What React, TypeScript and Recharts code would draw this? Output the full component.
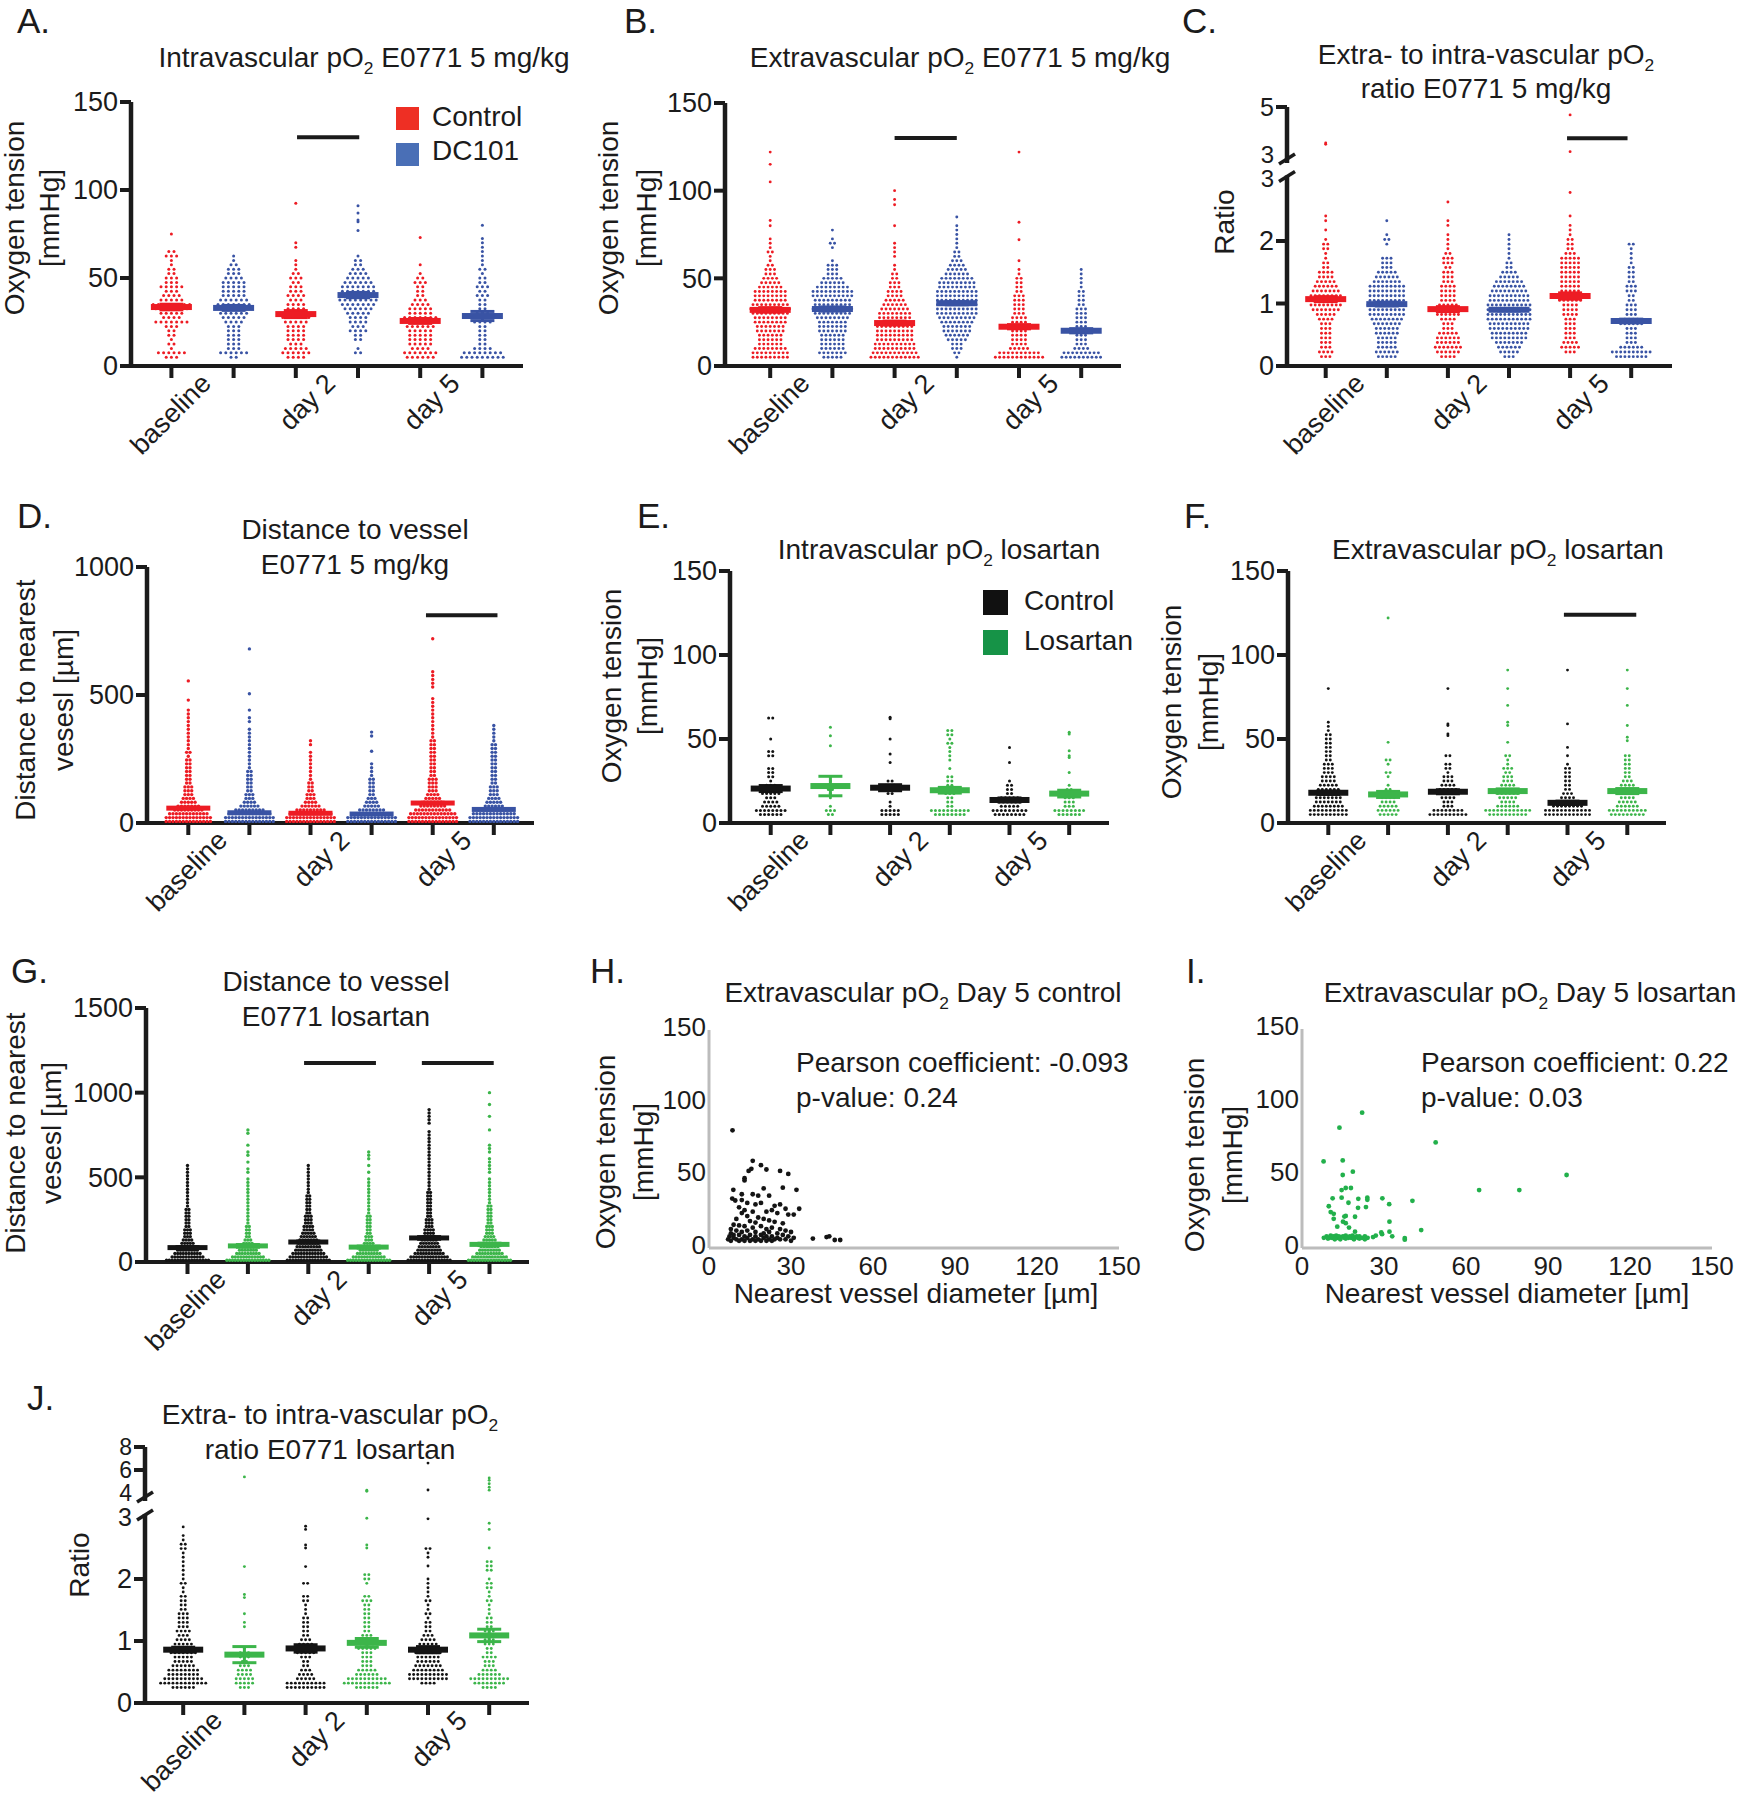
import React from "react";
import { ScatterChart, Scatter, XAxis, YAxis, ErrorBar, ReferenceLine } from "recharts";

const FONT = '"Liberation Sans", Arial, Helvetica, sans-serif';
const INK = "#1b1b1b";
const RED = "#ED1C24";
const BLUE = "#3953A4";
const GREEN = "#3CB54A";
const BLACK = "#141414";
const AXIS_GREY = "#bcbcbc";

const DAYS = ["baseline", "day 2", "day 5"];
const GROUP_POS = [1, 2, 3, 4, 5, 6];

// ---- dot counts per row (bin start, bin step), groups: ctrl/treat x baseline/day2/day5 ----
const A_BIN: [number, number] = [5, 2.5];
const A_COUNTS = [
  [3, 6, 1, 2, 1, 2, 2, 3, 7, 4, 5, 7, 8, 5, 4, 3, 5, 3, 3, 2, 2, 1, 1, 3, 2, 0, 0, 0, 1],
  [2, 6, 3, 3, 3, 3, 3, 3, 4, 5, 6, 8, 7, 6, 5, 5, 5, 5, 4, 3, 3, 2, 1, 1],
  [4, 6, 5, 3, 4, 4, 4, 4, 5, 6, 7, 4, 4, 3, 4, 3, 3, 2, 3, 2, 1, 1, 1, 0, 0, 1, 1],
  [0, 2, 1, 0, 2, 2, 4, 3, 4, 4, 5, 6, 7, 8, 8, 7, 7, 6, 5, 4, 3, 2, 2, 1],
  [6, 7, 4, 5, 5, 5, 5, 6, 8, 7, 5, 5, 4, 3, 2, 2, 2, 3, 2, 1, 0, 1],
  [9, 8, 4, 2, 2, 2, 2, 2, 4, 5, 3, 2, 2, 2, 3, 2, 3, 2, 2, 1, 2, 1, 1, 1, 1, 1, 1, 1],
];
const A_EXTRA = [[], [], [92.5], [77, 82, 83, 87, 91], [73], [80]];
const A_MEAN = [33.5, 33, 29.5, 40.3, 25.6, 28.4];
const A_SEM = [1.6, 1.4, 2.0, 1.5, 1.4, 2.6];

const B_BIN: [number, number] = [5, 2.5];
const B_COUNTS = [
  [9, 9, 8, 6, 6, 6, 7, 7, 8, 8, 9, 10, 9, 8, 8, 8, 6, 5, 4, 3, 3, 2, 1, 1, 2, 1, 1, 1],
  [5, 7, 6, 6, 6, 6, 7, 7, 7, 8, 9, 10, 9, 9, 10, 10, 8, 6, 5, 3, 3, 3, 1, 0, 0, 1, 2, 1, 0, 1],
  [12, 11, 10, 10, 9, 9, 9, 9, 9, 8, 8, 7, 6, 5, 4, 4, 3, 3, 2, 2, 1, 1, 0, 1, 1, 1, 1],
  [1, 2, 3, 3, 5, 6, 7, 7, 8, 9, 10, 10, 10, 10, 10, 10, 9, 9, 8, 6, 5, 4, 3, 2, 2, 1, 1, 1, 1, 1, 1, 0, 1],
  [12, 10, 5, 4, 4, 4, 4, 4, 4, 4, 3, 3, 3, 3, 3, 2, 2, 2, 2, 1, 1, 0, 1],
  [10, 9, 4, 3, 3, 3, 3, 3, 3, 3, 3, 3, 2, 2, 2, 2, 1, 1, 1, 1, 1],
];
const B_EXTRA = [[80, 83, 105, 115, 122], [], [80, 92, 95, 100], [], [72, 82, 122], []];
const B_MEAN = [32, 32.5, 24.5, 35.8, 22.4, 20.1];
const B_SEM = [1.3, 1.2, 1.1, 0.9, 1.2, 1.2];

const C_BIN: [number, number] = [0.15, 0.075];
const C_COUNTS = [
  [3, 4, 3, 3, 3, 3, 3, 3, 4, 5, 7, 8, 9, 8, 7, 6, 5, 4, 4, 2, 2, 1, 1, 2, 2, 1, 0, 1, 0, 1, 1],
  [5, 6, 5, 5, 5, 6, 6, 7, 8, 9, 9, 10, 9, 9, 9, 9, 7, 6, 5, 3, 3, 3, 0, 0, 1, 2, 1, 0, 0, 1],
  [4, 6, 7, 6, 6, 5, 3, 3, 4, 6, 8, 5, 4, 4, 4, 4, 3, 3, 3, 2, 3, 3, 2, 1, 1, 1, 1, 0, 1, 1, 0, 0, 0, 1],
  [3, 5, 6, 7, 9, 9, 10, 10, 11, 11, 11, 11, 10, 10, 9, 8, 7, 5, 4, 2, 2, 1, 1, 1, 1, 1, 1],
  [0, 3, 5, 4, 3, 3, 3, 3, 3, 4, 4, 4, 6, 9, 5, 5, 5, 5, 5, 5, 5, 5, 3, 2, 2, 2, 1, 1, 1, 0, 1, 0, 0, 0, 0, 1],
  [8, 10, 6, 3, 3, 3, 3, 6, 4, 3, 3, 3, 2, 2, 3, 3, 2, 2, 2, 2, 1, 1, 1, 1, 2],
];
const C_EXTRA = [[3.45, 3.5], [], [], [], [3.14, 4.67], []];
const C_MEAN = [1.07, 0.99, 0.91, 0.9, 1.12, 0.72];
const C_SEM = [0.04, 0.03, 0.04, 0.02, 0.05, 0.03];

const D_BIN: [number, number] = [6, 15];
const D_COUNTS = [
  [14, 14, 12, 9, 7, 5, 4, 3, 3, 3, 2, 2, 2, 2, 2, 2, 2, 1, 2, 1, 1, 1, 1, 1, 1, 1, 1, 1, 1, 1],
  [15, 15, 13, 9, 6, 4, 3, 3, 2, 2, 2, 2, 2, 2, 1, 1, 1, 1, 1, 1, 1, 1, 1, 1, 1, 0, 1, 1, 0, 1],
  [15, 15, 13, 9, 6, 4, 3, 3, 2, 2, 2, 1, 1, 1, 1, 1, 1, 1, 1, 0, 1, 1],
  [15, 15, 12, 8, 5, 4, 3, 2, 2, 2, 2, 2, 1, 1, 1, 1],
  [15, 15, 14, 11, 8, 6, 5, 4, 3, 3, 3, 3, 2, 2, 2, 2, 2, 2, 2, 2, 2, 2, 1, 1, 1, 1, 1, 1, 1, 1, 1, 1, 1, 0, 0, 1, 1, 1, 1, 1],
  [15, 15, 13, 10, 6, 5, 4, 3, 3, 3, 2, 2, 2, 2, 2, 2, 2, 2, 2, 2, 2, 1, 1, 1, 1, 1],
];
const D_EXTRA = [[480, 555], [505, 680], [], [280, 340, 355], [720], []];
const D_MEAN = [58, 40, 38, 35, 78, 53];
const D_SEM = [3, 2, 2, 2, 3, 2];

const E_BIN: [number, number] = [5, 2.5];
const E_COUNTS = [
  [6, 8, 5, 4, 3, 5, 7, 3, 1, 2, 2, 2, 0, 0, 2, 2, 0, 0, 1, 0, 0, 0, 0, 2],
  [2, 3, 1, 0, 1, 1, 2, 2, 1],
  [5, 5, 1, 1, 0, 2, 4, 3, 2],
  [8, 10, 2, 2, 2, 3, 4, 2, 2, 2, 0, 1, 0, 1, 1, 1, 1, 2, 1, 2, 2],
  [8, 9, 5, 6, 5, 2, 2, 2, 1],
  [6, 8, 3, 3, 3, 4, 2, 1],
];
const E_EXTRA = [[], [46, 52, 57], [36, 41, 50, 62, 63], [], [36, 45], [30, 39, 40, 43, 53, 54]];
const E_MEAN = [20.5, 22, 21, 19.5, 13.7, 17.5];
const E_SEM = [1.8, 5.8, 1.8, 1.7, 1.2, 2.0];

const F_BIN: [number, number] = [5, 2.5];
const F_COUNTS = [
  [10, 10, 8, 7, 7, 7, 6, 5, 4, 4, 3, 3, 3, 2, 2, 2, 2, 2, 2, 2, 1, 1, 1],
  [5, 6, 5, 4, 4, 4, 2, 1, 0, 1, 2, 0, 1, 2],
  [10, 8, 3, 3, 4, 5, 5, 4, 3, 3, 1, 2, 2, 0, 2],
  [10, 12, 6, 4, 5, 6, 6, 4, 3, 3, 2, 3, 1, 1, 2],
  [12, 12, 8, 6, 4, 3, 2, 2, 2, 2, 2, 2, 1],
  [9, 10, 6, 5, 4, 6, 6, 4, 3, 2, 2, 2, 2, 2, 2],
];
const F_EXTRA = [[80], [48, 122], [52, 53, 58, 59, 80], [48, 58, 60, 70, 80, 91], [40, 45, 59, 91], [49, 51, 58, 70, 80, 91]];
const F_MEAN = [18, 17, 18.6, 19, 12, 19];
const F_SEM = [1, 1.8, 1.2, 1.3, 1, 1.5];

const G_BIN: [number, number] = [10, 20];
const G_COUNTS = [
  [16, 12, 10, 8, 7, 5, 4, 3, 3, 3, 2, 2, 2, 2, 2, 2, 1, 1, 1, 1, 1, 1, 1, 1, 1, 1, 1, 1, 1],
  [16, 12, 9, 7, 5, 4, 3, 2, 2, 2, 2, 1, 1, 1, 1, 1, 1, 1, 1, 1, 1, 1, 1, 1, 1, 0, 1, 1, 0, 1, 0, 1, 1],
  [16, 14, 12, 10, 9, 8, 7, 6, 5, 4, 4, 3, 3, 3, 2, 2, 2, 2, 2, 2, 1, 1, 1, 1, 1, 1, 1, 1, 1],
  [16, 12, 9, 7, 5, 4, 3, 3, 2, 2, 2, 2, 2, 2, 1, 1, 1, 1, 1, 1, 1, 1, 1, 1, 1, 0, 1, 0, 1, 0, 1, 1, 1],
  [16, 14, 11, 9, 8, 7, 6, 5, 4, 4, 3, 3, 3, 2, 2, 2, 2, 2, 2, 2, 2, 1, 1, 1, 1, 1, 1, 1, 1, 1, 1, 1, 1, 1, 1, 1, 1, 1, 1],
  [16, 13, 10, 8, 7, 6, 5, 4, 3, 3, 3, 2, 2, 2, 2, 2, 2, 1, 1, 1, 1, 1, 1, 1, 1, 0, 1, 1, 1, 1, 1, 0, 1, 1, 1],
];
const G_EXTRA = [[], [690, 760, 780], [], [], [820, 840, 860, 880, 900], [780, 860, 930, 1000]];
const G_MEAN = [85, 95, 118, 88, 142, 104];
const G_SEM = [6, 8, 6, 6, 8, 7];

const J_BIN: [number, number] = [0.25, 0.07];
const J_COUNTS = [
  [6, 12, 10, 8, 8, 6, 5, 5, 7, 8, 5, 4, 3, 4, 3, 3, 3, 3, 2, 2, 2, 2, 1, 1, 2, 1, 1, 1, 1, 1, 1, 1, 2, 2, 1, 1, 0, 1],
  [3, 5, 5, 4, 4, 3, 2, 3, 3, 1, 0, 0, 0, 0, 1, 1, 0, 1],
  [10, 10, 5, 4, 3, 2, 2, 3, 5, 8, 4, 3, 2, 2, 2, 2, 2, 1, 1, 1, 2, 2, 0, 0, 2],
  [6, 12, 10, 6, 5, 3, 3, 3, 3, 5, 6, 5, 3, 2, 2, 2, 2, 2, 2, 2, 3, 2, 0, 0, 1, 2, 2],
  [0, 4, 10, 10, 8, 7, 6, 6, 7, 8, 5, 4, 3, 2, 2, 2, 1, 2, 1, 1, 2, 1, 1, 1, 1, 1, 0, 0, 1, 0, 1, 1, 2],
  [4, 8, 10, 6, 4, 3, 3, 4, 2, 2, 3, 3, 4, 3, 2, 2, 2, 1, 1, 1, 2, 1, 1, 2, 2, 1, 0, 2, 2, 2],
];
const J_EXTRA = [[], [1.7, 1.75, 2.2, 5.4], [2.2, 2.5, 2.55, 2.8, 2.85], [2.5, 2.55, 2.98, 4.15, 4.25], [2.97, 4.26, 6.6], [2.5, 2.8, 2.9, 4.25, 4.5, 4.8, 5.1, 5.3]];
const J_MEAN = [0.86, 0.78, 0.88, 0.97, 0.86, 1.09];
const J_SEM = [0.04, 0.13, 0.06, 0.07, 0.05, 0.1];

// diameter [µm], pO2 [mmHg]
const H_POINTS: [number, number][] = [
  [8.6, 81], [16, 60], [19, 57], [21, 54], [15.5, 54.5], [14.5, 53], [26, 53], [29, 51], [13, 48], [13, 46.5],
  [8.9, 40], [20, 41], [27, 41.5], [32, 40], [12, 37], [16, 37], [18, 36], [22, 36], [8.5, 34], [9.6, 32.7],
  [12, 33], [14, 31], [17, 30], [19, 31], [24, 29], [26, 30], [28, 27], [33, 27], [11, 28], [13, 26],
  [16, 25], [21, 25], [23, 26], [25, 24], [29, 23], [31, 23], [12, 24], [14, 22], [18, 21], [20, 20],
  [22, 19], [10, 20], [15, 18.5], [17, 17.5], [24, 18], [27, 17], [9, 16], [11, 15.5], [13, 15], [16, 14],
  [19, 15], [21, 13], [23, 14], [26, 13], [28, 12], [30, 11], [8, 13], [10, 12], [12, 11], [14, 12],
  [17, 11], [20, 10], [22, 11], [25, 10], [27, 9], [29, 8], [8, 10], [9, 9], [11, 9], [13, 8],
  [15, 9], [17, 8], [19, 9], [21, 8], [23, 8], [25, 7], [31, 7], [7.5, 8], [9, 7], [10, 6],
  [12, 6], [14, 7], [16, 6], [18, 6], [20, 7], [22, 6], [24, 6], [26, 6], [28, 6], [30, 5],
  [11, 5], [13, 5], [15, 5], [17, 5], [19, 5], [21, 5], [23, 5], [7, 6], [8, 5], [38, 6.5],
  [43, 7.5], [44, 8], [46, 5.5], [48, 5.5],
];
const I_POINTS: [number, number][] = [
  [22, 92.7], [13.7, 82.4], [48.9, 72.3], [7.9, 59.3], [14.9, 60], [18.6, 52.3], [14.9, 50], [96.8, 50], [64.8, 39.7], [79.5, 39.7],
  [16, 41.1], [17.9, 41.1], [14.5, 39.7], [40.4, 32.3], [29.4, 34], [23.9, 34.5], [23.9, 33], [20.6, 33.7], [11.2, 34], [14.5, 34.5],
  [17, 31], [31.9, 30], [9.8, 28.6], [20.5, 27.5], [23.4, 28], [10.5, 24.6], [11.6, 23.4], [16, 22], [15.5, 21.5], [19.4, 21.4],
  [11.6, 20], [15, 18], [16, 17], [32, 18], [12.9, 14.6], [17.2, 14], [43.6, 12.3], [29, 10.7], [29.3, 9.5], [32, 11.2],
  [19.4, 11.2], [37.6, 6.8], [37.6, 5.7], [33, 8], [9, 8], [10, 7], [10.5, 8.5], [11, 7], [11.5, 8], [12, 7],
  [12.5, 8.5], [13, 7], [13.5, 8], [14, 7], [15, 8], [15.5, 7], [16, 8.5], [17, 7], [17.5, 8], [18, 7],
  [18.5, 8.5], [19, 7], [20, 8], [20.5, 7], [21, 8], [22, 7], [23, 8], [24, 7], [26, 7.5], [27, 8.5],
  [8, 7], [9.5, 6.5], [12, 6], [14, 6], [16, 6.5], [19, 6], [21, 6.5], [23, 6],
];

// ---- broken y axes (C, J) ----
const C_K = 24 / 62.5;
const C_GAP = 23.5 / 62.5;
const cUpper = (v: number) => 3 + C_GAP + (v - 3) * C_K;
const brkC = (v: number) => (v <= 3 ? v : cUpper(v));
const J_K = 11.5 / 62;
const J_GAP = 24 / 62;
const jUpper = (v: number) => 3 + J_GAP + (v - 4) * J_K;
const brkJ = (v: number) => (v <= 3 ? v : jUpper(v));

type YTick = { v: number; label: string; line?: boolean; brk?: boolean; size?: number };
const T150: YTick[] = [0, 50, 100, 150].map((v) => ({ v, label: String(v) }));
const T1000: YTick[] = [0, 500, 1000].map((v) => ({ v, label: String(v) }));
const T1500: YTick[] = [0, 500, 1000, 1500].map((v) => ({ v, label: String(v) }));
const TC: YTick[] = [
  { v: 0, label: "0" }, { v: 1, label: "1" }, { v: 2, label: "2" },
  { v: 3, label: "3", line: false, brk: true, size: 24 },
  { v: cUpper(3), label: "3", line: false, size: 24 }, { v: cUpper(5), label: "5", size: 25 },
];
const TJ: YTick[] = [
  { v: 0, label: "0" }, { v: 1, label: "1" }, { v: 2, label: "2" },
  { v: 3, label: "3", line: false, brk: true, size: 25 },
  { v: jUpper(4), label: "4", line: false, size: 23 }, { v: jUpper(6), label: "6", size: 23 }, { v: jUpper(8), label: "8", size: 23 },
];

type Geo = { axisX: number; right: number; yTop: number; y0: number; first: number; spacing: number };
const GEO_A: Geo = { axisX: 131, right: 523, yTop: 102, y0: 366, first: 171.4, spacing: 62.2 };
const GEO_B: Geo = { axisX: 725, right: 1121, yTop: 103, y0: 366, first: 770.2, spacing: 62.2 };
const GEO_C: Geo = { axisX: 1287, right: 1672, yTop: 107, y0: 366, first: 1325.7, spacing: 61.1 };
const GEO_D: Geo = { axisX: 147, right: 534, yTop: 567, y0: 823, first: 188.3, spacing: 61.1 };
const GEO_E: Geo = { axisX: 730, right: 1109, yTop: 571, y0: 823, first: 770.7, spacing: 59.7 };
const GEO_F: Geo = { axisX: 1288, right: 1666, yTop: 571, y0: 823, first: 1328.3, spacing: 59.8 };
const GEO_G: Geo = { axisX: 146, right: 529, yTop: 1008, y0: 1262, first: 187.5, spacing: 60.4 };
const GEO_J: Geo = { axisX: 145, right: 529, yTop: 1447, y0: 1703, first: 183.2, spacing: 61.2 };

const YW = 80;
const XH = 115;
const MT = 20;
const MR = 20;

type DotPanelProps = {
  geo: Geo; yMax: number; yTicks: YTick[]; bin: [number, number];
  counts: number[][]; extra: number[][]; means: number[]; sems: number[];
  colors: [string, string]; dotR: number; dotGap: number; meanW: number; meanH: number;
  sig?: [number, number, number][]; tf?: (v: number) => number; gapPx?: number;
};

function DotPanel(p: DotPanelProps) {
  const { geo } = p;
  const tf = p.tf ?? ((v: number) => v);
  const plotH = geo.y0 - geo.yTop;
  const width = YW + (geo.right - geo.axisX) + MR;
  const height = MT + plotH + XH;
  const xMin = 1 - (geo.first - geo.axisX) / geo.spacing;
  const xMax = 6 + (geo.right - geo.first - 5 * geo.spacing) / geo.spacing;
  const gap = p.dotGap / geo.spacing;
  const axisY = MT + plotH;

  const series = p.counts.map((cnt, gi) => {
    const pos = GROUP_POS[gi];
    const pts: { x: number; y: number }[] = [];
    cnt.forEach((n, i) => {
      const v = p.bin[0] + i * p.bin[1];
      for (let j = 0; j < n; j++) pts.push({ x: pos + (j - (n - 1) / 2) * gap, y: tf(v) });
    });
    (p.extra[gi] ?? []).forEach((v) => pts.push({ x: pos, y: tf(v) }));
    return pts;
  });

  const xTick = (t: any) => {
    const v = t.payload?.value;
    const k = v === 1 ? 0 : v === 3 ? 1 : v === 5 ? 2 : -1;
    if (k < 0) return <g />;
    const px = t.x + geo.spacing / 2 + 10;
    const py = axisY + 19;
    return (
      <text x={px} y={py} transform={`rotate(-45 ${px} ${py})`} textAnchor="end" fontSize={27} fontFamily={FONT} fill={INK}>
        {DAYS[k]}
      </text>
    );
  };

  const yTick = (t: any) => {
    const tk = p.yTicks[t.index];
    if (!tk) return <g />;
    const y = t.y;
    const ax = YW;
    const g = p.gapPx ?? 0;
    return (
      <g>
        {tk.line !== false && <line x1={ax - 11} x2={ax} y1={y} y2={y} stroke={INK} strokeWidth={4} />}
        {tk.brk && (
          <g>
            <rect x={ax - 4} y={y - g + 8} width={8} height={g - 11} fill="#fff" />
            <line x1={ax - 8} y1={y + 3} x2={ax + 8} y2={y - 7} stroke={INK} strokeWidth={3.5} />
            <line x1={ax - 8} y1={y - g + 9} x2={ax + 8} y2={y - g - 1} stroke={INK} strokeWidth={3.5} />
          </g>
        )}
        <text x={ax - 13} y={y} dy="0.35em" textAnchor="end" fontSize={tk.size ?? 27} fontFamily={FONT} fill={INK}>
          {tk.label}
        </text>
      </g>
    );
  };

  return (
    <div style={{ position: "absolute", left: geo.axisX - YW, top: geo.yTop - MT }}>
      <ScatterChart width={width} height={height} margin={{ top: MT, right: MR, bottom: 0, left: 0 }}>
        <XAxis
          type="number" dataKey="x" domain={[xMin, xMax]} ticks={GROUP_POS} allowDataOverflow interval={0}
          height={XH} axisLine={{ stroke: INK, strokeWidth: 4 }} tickLine={{ stroke: INK, strokeWidth: 4 }}
          tickSize={12} tick={xTick}
        />
        <YAxis
          type="number" dataKey="y" domain={[0, p.yMax]} ticks={p.yTicks.map((t) => t.v)} allowDataOverflow
          interval={0} width={YW} axisLine={{ stroke: INK, strokeWidth: 4.5 }} tickLine={false} tick={yTick}
        />
        {series.map((pts, gi) => {
          const c = p.colors[gi % 2];
          return (
            <Scatter
              key={"g" + gi} data={pts} fill={c} isAnimationActive={false}
              shape={(s: any) => <circle cx={s.cx} cy={s.cy} r={p.dotR} fill={c} />}
            />
          );
        })}
        {[0, 1].map((ci) => {
          const c = p.colors[ci];
          const data = GROUP_POS.filter((_, gi) => gi % 2 === ci).map((pos) => ({
            x: pos, y: tf(p.means[pos - 1]), err: p.sems[pos - 1],
          }));
          return (
            <Scatter
              key={"m" + ci} data={data} fill={c} isAnimationActive={false}
              shape={(s: any) => (
                <rect x={s.cx - p.meanW / 2} y={s.cy - p.meanH / 2} width={p.meanW} height={p.meanH} fill={c} />
              )}
            >
              <ErrorBar dataKey="err" direction="y" width={12} stroke={c} strokeWidth={3} />
            </Scatter>
          );
        })}
        {(p.sig ?? []).map((s, i) => (
          <ReferenceLine
            key={"s" + i}
            segment={[{ x: s[0], y: tf(s[2]) }, { x: s[1], y: tf(s[2]) }]}
            stroke={INK} strokeWidth={4}
          />
        ))}
      </ScatterChart>
    </div>
  );
}

function CorrPanel(p: { axisX: number; right: number; yTop: number; y0: number; pts: [number, number][]; color: string }) {
  const yw = 70, xh = 45, mt = 28, mr = 40;
  const plotH = p.y0 - p.yTop;
  const width = yw + (p.right - p.axisX) + mr;
  const height = mt + plotH + xh;
  const data = p.pts.map(([x, y]) => ({ x, y }));
  const xTick = (t: any) => (
    <text x={t.x} y={mt + plotH + 27} textAnchor="middle" fontSize={26} fontFamily={FONT} fill={INK}>
      {t.payload?.value}
    </text>
  );
  const yTick = (t: any) => (
    <text x={yw - 3} y={t.y - 3} dy="0.35em" textAnchor="end" fontSize={26} fontFamily={FONT} fill={INK}>
      {t.payload?.value}
    </text>
  );
  return (
    <div style={{ position: "absolute", left: p.axisX - yw, top: p.yTop - mt }}>
      <ScatterChart width={width} height={height} margin={{ top: mt, right: mr, bottom: 0, left: 0 }}>
        <XAxis
          type="number" dataKey="x" domain={[0, 150]} ticks={[0, 30, 60, 90, 120, 150]} allowDataOverflow interval={0}
          height={xh} axisLine={{ stroke: AXIS_GREY, strokeWidth: 3 }} tickLine={false} tick={xTick}
        />
        <YAxis
          type="number" dataKey="y" domain={[0, 150]} ticks={[0, 50, 100, 150]} allowDataOverflow interval={0}
          width={yw} axisLine={{ stroke: AXIS_GREY, strokeWidth: 3 }} tickLine={false} tick={yTick}
        />
        <Scatter
          data={data} fill={p.color} isAnimationActive={false}
          shape={(s: any) => <circle cx={s.cx} cy={s.cy} r={2.4} fill={p.color} />}
        />
      </ScatterChart>
    </div>
  );
}

const Sub = ({ children }: { children: React.ReactNode }) => (
  <span style={{ fontSize: "0.62em", position: "relative", top: "0.4em" }}>{children}</span>
);

function Center({ x, y, size = 28, children }: { x: number; y: number; size?: number; children: React.ReactNode }) {
  return (
    <div style={{
      position: "absolute", left: x, top: y, transform: "translate(-50%,-50%)", fontSize: size,
      lineHeight: 1, whiteSpace: "nowrap", fontFamily: FONT, color: INK,
    }}>
      {children}
    </div>
  );
}

// rotated axis title; one line per [text, centre x]
function VLabel({ y, lines }: { y: number; lines: [string, number][] }) {
  return (
    <>
      {lines.map(([t, x], i) => (
        <div key={i} style={{
          position: "absolute", left: x, top: y, transform: "translate(-50%,-50%) rotate(-90deg)", fontSize: 28,
          lineHeight: 1, whiteSpace: "nowrap", fontFamily: FONT, color: INK,
        }}>
          {t}
        </div>
      ))}
    </>
  );
}

function LeftText({ x, base, size = 28, children }: { x: number; base: number; size?: number; children: React.ReactNode }) {
  return (
    <div style={{
      position: "absolute", left: x, top: base - 0.846 * size, fontSize: size, lineHeight: 1,
      whiteSpace: "nowrap", fontFamily: FONT, color: INK,
    }}>
      {children}
    </div>
  );
}

const Swatch = ({ x, y, w, h, c }: { x: number; y: number; w: number; h: number; c: string }) => (
  <div style={{ position: "absolute", left: x, top: y, width: w, height: h, background: c }} />
);

export default function App() {
  return (
    <div style={{
      position: "absolute", left: 0, top: 0, width: 1740, height: 1800, background: "#fff",
      fontFamily: FONT, color: INK, overflow: "hidden",
    }}>
      {/* panel letters */}
      <LeftText x={17} base={33} size={35}>A.</LeftText>
      <LeftText x={624} base={33} size={35}>B.</LeftText>
      <LeftText x={1182} base={33} size={35}>C.</LeftText>
      <LeftText x={17} base={528} size={35}>D.</LeftText>
      <LeftText x={637} base={528} size={35}>E.</LeftText>
      <LeftText x={1184} base={528} size={35}>F.</LeftText>
      <LeftText x={11} base={983} size={35}>G.</LeftText>
      <LeftText x={590} base={983} size={35}>H.</LeftText>
      <LeftText x={1186} base={983} size={35}>I.</LeftText>
      <LeftText x={27} base={1410} size={35}>J.</LeftText>

      {/* titles */}
      <Center x={364} y={58}>Intravascular pO<Sub>2</Sub> E0771 5 mg/kg</Center>
      <Center x={960} y={58}>Extravascular pO<Sub>2</Sub> E0771 5 mg/kg</Center>
      <Center x={1486} y={55}>Extra- to intra-vascular pO<Sub>2</Sub></Center>
      <Center x={1486} y={89}>ratio E0771 5 mg/kg</Center>
      <Center x={355} y={530}>Distance to vessel</Center>
      <Center x={355} y={565}>E0771 5 mg/kg</Center>
      <Center x={939} y={550}>Intravascular pO<Sub>2</Sub> losartan</Center>
      <Center x={1498} y={550}>Extravascular pO<Sub>2</Sub> losartan</Center>
      <Center x={336} y={982}>Distance to vessel</Center>
      <Center x={336} y={1017}>E0771 losartan</Center>
      <Center x={923} y={993}>Extravascular pO<Sub>2</Sub> Day 5 control</Center>
      <Center x={1530} y={993}>Extravascular pO<Sub>2</Sub> Day 5 losartan</Center>
      <Center x={330} y={1415}>Extra- to intra-vascular pO<Sub>2</Sub></Center>
      <Center x={330} y={1450}>ratio E0771 losartan</Center>

      {/* y labels */}
      <VLabel y={218} lines={[["Oxygen tension", 15], ["[mmHg]", 50]]} />
      <VLabel y={218} lines={[["Oxygen tension", 609], ["[mmHg]", 647]]} />
      <VLabel y={222} lines={[["Ratio", 1225]]} />
      <VLabel y={700} lines={[["Distance to nearest", 26], ["vesesl [µm]", 64]]} />
      <VLabel y={686} lines={[["Oxygen tension", 612], ["[mmHg]", 648]]} />
      <VLabel y={702} lines={[["Oxygen tension", 1172], ["[mmHg]", 1209]]} />
      <VLabel y={1133} lines={[["Distance to nearest", 16], ["vesesl [µm]", 52]]} />
      <VLabel y={1152} lines={[["Oxygen tension", 606], ["[mmHg]", 644]]} />
      <VLabel y={1155} lines={[["Oxygen tension", 1195], ["[mmHg]", 1233]]} />
      <VLabel y={1565} lines={[["Ratio", 80]]} />

      {/* x labels H, I */}
      <Center x={916} y={1294} size={28}>Nearest vessel diameter [µm]</Center>
      <Center x={1507} y={1294} size={28}>Nearest vessel diameter [µm]</Center>

      {/* legends */}
      <Swatch x={396} y={107} w={23} h={23} c="#EE2F24" />
      <Swatch x={396} y={143} w={23} h={23} c="#4A6FB6" />
      <LeftText x={432} base={127}>Control</LeftText>
      <LeftText x={432} base={161}>DC101</LeftText>
      <Swatch x={983} y={590} w={25} h={25} c="#111111" />
      <Swatch x={983} y={630} w={25} h={25} c="#169347" />
      <LeftText x={1024} base={611}>Control</LeftText>
      <LeftText x={1024} base={651}>Losartan</LeftText>

      {/* annotations */}
      <LeftText x={796} base={1073}>Pearson coefficient: -0.093</LeftText>
      <LeftText x={796} base={1108}>p-value: 0.24</LeftText>
      <LeftText x={1421} base={1073}>Pearson coefficient: 0.22</LeftText>
      <LeftText x={1421} base={1108}>p-value: 0.03</LeftText>

      <DotPanel geo={GEO_A} yMax={150} yTicks={T150} bin={A_BIN} counts={A_COUNTS} extra={A_EXTRA}
        means={A_MEAN} sems={A_SEM} colors={[RED, BLUE]} dotR={1.5} dotGap={5.2} meanW={41} meanH={6}
        sig={[[3.02, 4.02, 130]]} />
      <DotPanel geo={GEO_B} yMax={150} yTicks={T150} bin={B_BIN} counts={B_COUNTS} extra={B_EXTRA}
        means={B_MEAN} sems={B_SEM} colors={[RED, BLUE]} dotR={1.45} dotGap={4.3} meanW={41} meanH={6}
        sig={[[3, 4, 130]]} />
      <DotPanel geo={GEO_C} yMax={cUpper(5)} yTicks={TC} bin={C_BIN} counts={C_COUNTS} extra={C_EXTRA}
        means={C_MEAN} sems={C_SEM} colors={[RED, BLUE]} dotR={1.45} dotGap={4.2} meanW={41} meanH={6}
        sig={[[4.95, 5.94, 3.7]]} tf={brkC} gapPx={23.5} />
      <DotPanel geo={GEO_D} yMax={1000} yTicks={T1000} bin={D_BIN} counts={D_COUNTS} extra={D_EXTRA}
        means={D_MEAN} sems={D_SEM} colors={[RED, BLUE]} dotR={1.7} dotGap={3.4} meanW={44} meanH={5}
        sig={[[4.89, 6.06, 812]]} />
      <DotPanel geo={GEO_E} yMax={150} yTicks={T150} bin={E_BIN} counts={E_COUNTS} extra={E_EXTRA}
        means={E_MEAN} sems={E_SEM} colors={[BLACK, GREEN]} dotR={1.5} dotGap={4.1} meanW={40} meanH={6} />
      <DotPanel geo={GEO_F} yMax={150} yTicks={T150} bin={F_BIN} counts={F_COUNTS} extra={F_EXTRA}
        means={F_MEAN} sems={F_SEM} colors={[BLACK, GREEN]} dotR={1.45} dotGap={4.0} meanW={40} meanH={6}
        sig={[[4.94, 6.15, 124]]} />
      <DotPanel geo={GEO_G} yMax={1500} yTicks={T1500} bin={G_BIN} counts={G_COUNTS} extra={G_EXTRA}
        means={G_MEAN} sems={G_SEM} colors={[BLACK, GREEN]} dotR={1.7} dotGap={2.8} meanW={40} meanH={5}
        sig={[[2.93, 4.12, 1175], [4.88, 6.07, 1175]]} />
      <DotPanel geo={GEO_J} yMax={jUpper(8)} yTicks={TJ} bin={J_BIN} counts={J_COUNTS} extra={J_EXTRA}
        means={J_MEAN} sems={J_SEM} colors={[BLACK, GREEN]} dotR={1.45} dotGap={4.1} meanW={40} meanH={6}
        tf={brkJ} gapPx={24} />

      <CorrPanel axisX={709} right={1119} yTop={1030} y0={1248} pts={H_POINTS} color={BLACK} />
      <CorrPanel axisX={1302} right={1712} yTop={1029} y0={1248} pts={I_POINTS} color="#22B04B" />
    </div>
  );
}
